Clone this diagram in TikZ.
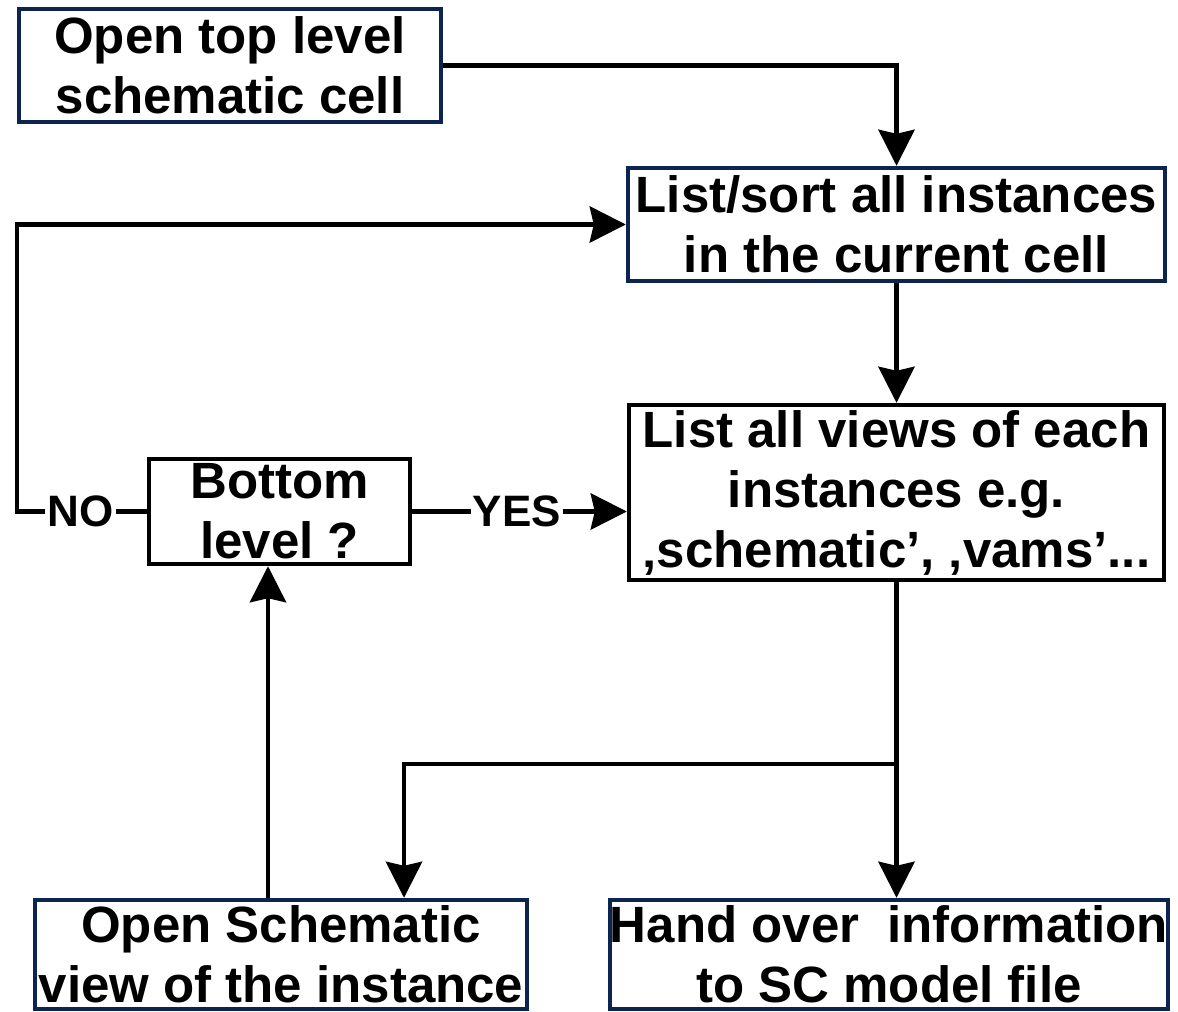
\documentclass[tikz,border=0pt]{standalone}
\usepackage{fontspec}
\setmainfont{Liberation Sans}
\usepackage{xcolor}
\usetikzlibrary{arrows.meta,positioning,calc}
\definecolor{navy}{RGB}{12,36,80}

\begin{document}
\begin{tikzpicture}[x=0.5pt, y=-0.5pt,
  blk/.style={draw=navy, line width=2.2pt, align=center, inner sep=0pt,
              font=\fontsize{25.5}{30}\selectfont\bfseries},
  dec/.style={blk, draw=black},
  arr/.style={-{Stealth[length=18pt, width=18pt, inset=2pt]}, line width=2.4pt},
  lin/.style={line width=2.4pt},
  lab/.style={font=\fontsize{22}{26}\selectfont\bfseries, inner sep=1pt}]
\useasboundingbox (0,0) rectangle (1178,1012);
\node[blk, minimum width=211pt, minimum height=56.5pt] (top) at (230,65.5)
  {Open top level\\ schematic cell};
\node[blk, minimum width=268.5pt, minimum height=56.5pt] (sort) at (896.5,224.5)
  {List/sort all instances\\ in the current cell};
\node[dec, minimum width=267.5pt, minimum height=87.5pt] (views) at (896.5,492.5)
  {List all views of each\\ instances e.g.\\ ‚schematic’, ‚vams’...};
\node[dec, minimum width=130.5pt, minimum height=52.5pt] (bot) at (279.5,511.5)
  {Bottom\\ level ?};
\node[blk, minimum width=246pt, minimum height=54.5pt] (opens) at (281,954.5)
  {Open Schematic\\ view of the instance};
\node[blk, minimum width=277pt, minimum height=54.5pt] (hand) at (889,954.5)
  {Hand over~ information\\ to SC model file};
\node[lab] (no) at (80.5,511.5) {NO};
\node[lab] (yes) at (517,511.5) {YES};
\coordinate (turn) at (17,511.5);
\coordinate (br) at (896.5,764);
\coordinate (dn) at ($(opens.north)+(123,0)$);
\coordinate (up) at ($(opens.north)+(-13,0)$);
% main flow
\draw[arr] (top.east) -| (sort.north);
\draw[arr] (sort) -- (views);
\draw[lin] (views.south) -- (br);
\draw[arr] (br) -- (hand.north -| br);
\draw[arr] (br) -| (dn);
\draw[arr] (up) -- (up |- bot.south);
% decision
\draw[lin] (bot.east) -- (yes.west);
\draw[arr] (yes.east) -- (yes.east -| views.west);
\draw[lin] (bot.west) -- (no.east);
\draw[arr] (no.west) -- (turn) |- (sort.west);
\end{tikzpicture}
\end{document}
